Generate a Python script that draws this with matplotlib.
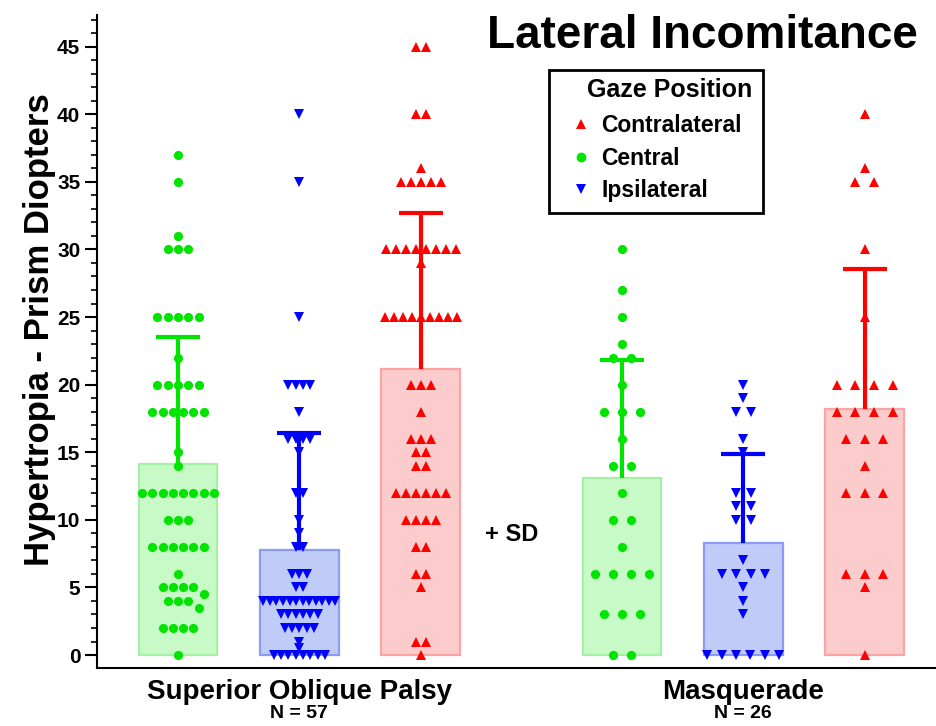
import numpy as np
import matplotlib
matplotlib.use('Agg')
import matplotlib.pyplot as plt
from matplotlib.lines import Line2D
from matplotlib.patches import Rectangle
from matplotlib.ticker import MultipleLocator

plt.rcParams['font.family'] = ['Liberation Sans', 'DejaVu Sans']
plt.rcParams['font.weight'] = 'bold'

# ---- data ----
groups = ['Superior Oblique Palsy', 'Masquerade']
group_n = ['N = 57', 'N = 26']
gaze = ['Contralateral', 'Central', 'Ipsilateral']

sop_central = [37, 35, 31, 30, 30, 30, 25, 25, 25, 25, 25, 22,
               20, 20, 20, 20, 20, 18, 18, 18, 18, 18, 18, 15, 14,
               12, 12, 12, 12, 12, 12, 12, 12, 10, 10, 10,
               8, 8, 8, 8, 8, 8, 6, 5, 5, 5, 5, 4.5, 4, 4, 4, 3.5,
               2, 2, 2, 2, 0]
sop_ipsi = [40, 35, 25, 20, 20, 20, 20, 18, 16, 16, 16, 16, 15,
            12, 12, 10, 9, 8, 8, 6, 6, 6, 5, 5,
            4, 4, 4, 4, 4, 4, 4, 4, 4, 4, 4, 4,
            3, 3, 3, 3, 3, 3, 2, 2, 2, 2, 2, 1, 0.5,
            0, 0, 0, 0, 0, 0, 0, 0]
sop_contra = [45, 45, 40, 40, 36, 35, 35, 35, 35, 35,
              30, 30, 30, 30, 30, 30, 30, 30, 29,
              25, 25, 25, 25, 25, 25, 25, 25, 25,
              20, 20, 20, 18, 16, 16, 16, 15, 15, 14, 14,
              12, 12, 12, 12, 12, 12, 10, 10, 10, 10,
              8, 8, 6, 6, 5, 1, 1, 0]
masq_central = [30, 27, 25, 23, 22, 22, 20, 18, 18, 18, 16, 14, 14,
                12, 10, 10, 8, 6, 6, 6, 6, 3, 3, 3, 0, 0]
masq_ipsi = [20, 19, 18, 18, 16, 15, 12, 12, 11, 11, 10, 10, 7,
             6, 6, 6, 6, 5, 4, 3, 0, 0, 0, 0, 0, 0]
masq_contra = [40, 36, 35, 35, 30, 25, 20, 20, 20, 20, 18, 18, 18, 18,
               16, 16, 16, 14, 12, 12, 12, 6, 6, 6, 5, 0]

columns = [sop_central, sop_ipsi, sop_contra, masq_central, masq_ipsi, masq_contra]
x_pos = [0, 1, 2, 3.66, 4.66, 5.66]

# styles per gaze position
mk = {'Central': 'o', 'Ipsilateral': 'v', 'Contralateral': '^'}
dark = {'Central': '#00E400', 'Ipsilateral': '#0000FF', 'Contralateral': '#FF0000'}
fill = {'Central': '#C8FAC8', 'Ipsilateral': '#C0CCF8', 'Contralateral': '#FCCCCC'}
edge = {'Central': '#A4F0A4', 'Ipsilateral': '#8C9CF4', 'Contralateral': '#FCA4A4'}
col_gaze = ['Central', 'Ipsilateral', 'Contralateral'] * 2
col_step = [10.3, 7.3, 10.0, 18.3, 14.5, 18.7]   # px between neighbours in a row

W, H = 937, 726
xlim = (-0.668, 6.257)
ylim = (-0.96, 47.34)
ax_box = [97, 15, 937, 668]   # left, top, right, bottom in px
xpx = (ax_box[2] - ax_box[0]) / (xlim[1] - xlim[0])
ypx = (ax_box[3] - ax_box[1]) / (ylim[1] - ylim[0])


def swarm(vals, step, hpx, wpx, maxspan=72):
    vals = np.asarray(vals, float)
    uniq, counts = np.unique(vals, return_counts=True)
    order = np.argsort(-counts, kind='stable')
    px_, py_ = [], []
    for k in order:
        v, n = uniq[k], counts[k]
        sp = step if n < 2 else min(step, maxspan / (n - 1))
        base = (np.arange(n) - (n - 1) / 2) * sp
        for sh in [0, .5, -.5, 1, -1, 1.5, -1.5, 2, -2, 2.5, -2.5, 3, -3, 3.5, -3.5]:
            cand = base + sh * step
            ok = True
            for cx in cand:
                for qx, qy in zip(px_, py_):
                    if abs(cx - qx) < wpx and abs(v - qy) * ypx < hpx:
                        ok = False
                        break
                if not ok:
                    break
            if ok:
                break
        px_ += list(cand)
        py_ += [v] * n
    return np.array(px_) / xpx, np.array(py_)


fig = plt.figure(figsize=(W / 100, H / 100), dpi=100)
ax = fig.add_axes([ax_box[0] / W, 1 - ax_box[3] / H,
                   (ax_box[2] - ax_box[0]) / W, (ax_box[3] - ax_box[1]) / H])

for x, vals, g, st in zip(x_pos, columns, col_gaze, col_step):
    m = np.mean(vals)
    sd = np.std(vals, ddof=1)
    ax.bar(x, m, width=0.65, color=fill[g], edgecolor=edge[g], linewidth=1.6, zorder=1)
    eb = ax.errorbar(x, m, yerr=[[0], [sd]], fmt='none', ecolor=dark[g],
                     elinewidth=3, capsize=15.8, capthick=3, zorder=3)
    eb[1][0].set_visible(False)   # only the +SD cap
    h = 9 if g == 'Central' else 6
    dx, yy = swarm(vals, st, h, st * 0.95)
    ax.plot(x + dx, yy, ls='none', marker=mk[g], color=dark[g],
            ms=6.6 if g == 'Central' else 7.2, mew=0, zorder=4, clip_on=False)

ax.set_xlim(*xlim)
ax.set_ylim(*ylim)
ax.spines['top'].set_visible(False)
ax.spines['right'].set_visible(False)
ax.spines['left'].set_linewidth(1.5)
ax.spines['bottom'].set_linewidth(1.5)
ax.yaxis.set_major_locator(MultipleLocator(5))
ax.yaxis.set_minor_locator(MultipleLocator(1))
ax.set_yticks(np.arange(0, 46, 5))
ax.tick_params(axis='y', which='major', length=9, width=1.5, labelsize=15, pad=3)
ax.tick_params(axis='y', which='minor', length=4.5, width=1.2)
ax.set_xticks([1, 4.66])
ax.set_xticklabels(groups, fontsize=20)
ax.tick_params(axis='x', length=0, pad=8)

for xg, nl in zip([1, 4.66], group_n):
    ax.text(xg, ylim[0] - (714 - 668) / ypx, nl, ha='center', va='center',
            fontsize=14, clip_on=False)

ax.text(2.75, 8.9, '+ SD', ha='center', va='center', fontsize=17)

fig.text(40 / W, 1 - 330 / H, 'Hypertropia - Prism Diopters', rotation=90,
         ha='center', va='center', fontsize=25)
fig.text(918 / W, 1 - 48 / H, 'Lateral Incomitance', ha='right', va='baseline',
         fontsize=33)

# legend: square frame, title and entries
fig.patches.append(Rectangle((549 / W, 1 - 213 / H), 214 / W, 143 / H,
                             transform=fig.transFigure, fill=True, facecolor='white',
                             edgecolor='black', linewidth=2, zorder=5))
fig.text(670 / W, 1 - 90 / H, 'Gaze Position', ha='center', va='center',
         fontsize=18, zorder=6)
handles = [Line2D([], [], ls='none', marker=mk[g], color=dark[g], ms=7, mew=0) for g in gaze]
leg = fig.legend(handles, gaze, loc='upper left',
                 bbox_to_anchor=(570 / W, 1 - 114 / H), bbox_transform=fig.transFigure,
                 frameon=False, prop={'weight': 'bold', 'size': 16.5},
                 handlelength=1, handletextpad=0.38, labelspacing=0.42,
                 borderpad=0, borderaxespad=0)
leg.set_zorder(6)

fig.savefig('out.png', dpi=100)
